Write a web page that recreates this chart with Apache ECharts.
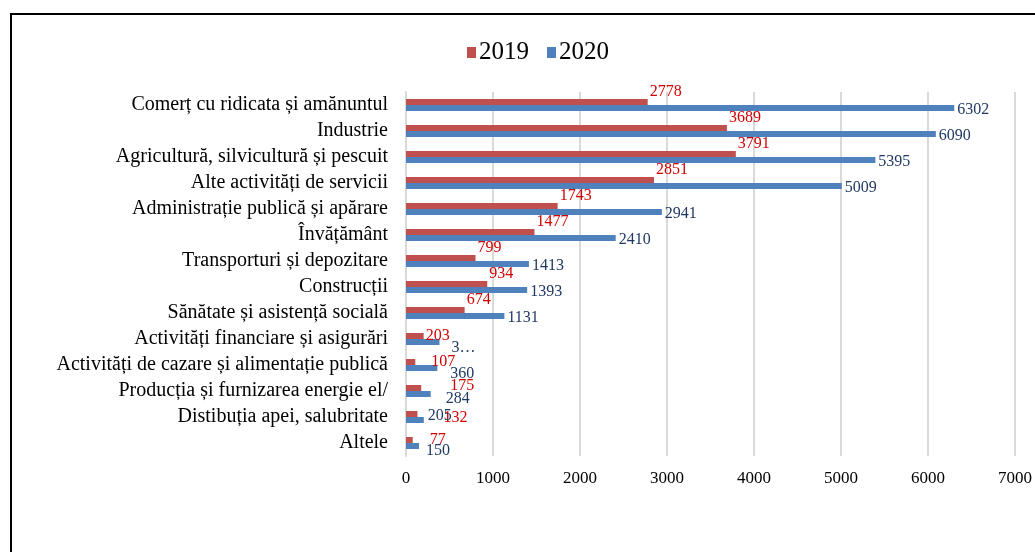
<!DOCTYPE html>
<html>
<head>
<meta charset="utf-8">
<script src="https://cdn.jsdelivr.net/npm/echarts@6/dist/echarts.min.js"></script>
<style>
html, body { margin: 0; padding: 0; background: #fff; }
#chart { width: 1035px; height: 552px; }
</style>
</head>
<body>
<div id="chart"></div>
<script>
var categories = [
	'Comerț cu ridicata și amănuntul',
	'Industrie',
	'Agricultură, silvicultură și pescuit',
	'Alte activități de servicii',
	'Administrație publică și apărare',
	'Învățământ',
	'Transporturi și depozitare',
	'Construcții',
	'Sănătate și asistență socială',
	'Activități financiare și asigurări',
	'Activități de cazare și alimentație publică',
	'Producția și furnizarea energie el/',
	'Distibuția apei, salubritate',
	'Altele'
];
var values2019 = [2778, 3689, 3791, 2851, 1743, 1477, 799, 934, 674, 203, 107, 175, 132, 77];
var values2020 = [6302, 6090, 5395, 5009, 2941, 2410, 1413, 1393, 1131, 385, 360, 284, 205, 150];
var xTicks = [0, 1000, 2000, 3000, 4000, 5000, 6000, 7000];

// the crowded labels at the bottom are shifted by hand, like in the original
var offsets2019 = {9: [0, 0], 10: [14, 0], 11: [27, -2], 12: [24, 4], 13: [15, 0]};
var offsets2020 = {9: [9, 6], 10: [10, 6], 11: [12, 5], 12: [1, -4], 13: [4, 5]};

var serif = '"Liberation Serif", "Times New Roman", serif';

function buildData(values, offsets, extra) {
	return values.map(function (v, i) {
		var item = { value: v };
		if (offsets[i]) item.label = { offset: offsets[i] };
		if (extra && extra[i]) item.label = Object.assign(item.label || {}, extra[i]);
		return item;
	});
}

var chart = echarts.init(document.getElementById('chart'));
var option = {
	backgroundColor: '#fff',
	animation: false,
	textStyle: { fontFamily: serif },
	graphic: [{
		type: 'rect',
		shape: { x: 11, y: 14, width: 1100, height: 600 },
		style: { fill: 'none', stroke: '#000', lineWidth: 2 }
	}],
	legend: {
		data: ['2019', '2020'],
		top: 35,
		left: 462,
		itemWidth: 9,
		itemHeight: 11,
		itemGap: 18,
		icon: 'rect',
		textStyle: { fontFamily: serif, fontSize: 25, color: '#000', padding: [0, 0, 0, -2] }
	},
	grid: { left: 406, right: 12, top: 92, bottom: 96, containLabel: false },
	xAxis: {
		type: 'value',
		min: xTicks[0],
		max: xTicks[xTicks.length - 1],
		interval: 1000,
		axisLine: { show: false },
		axisTick: { show: false },
		splitLine: { lineStyle: { color: '#d9d9d9', width: 2 } },
		axisLabel: {
			fontFamily: serif, fontSize: 17, color: '#000', margin: 14,
			formatter: function (v) { return String(v); }
		}
	},
	yAxis: {
		type: 'category',
		data: categories,
		inverse: true,
		axisLine: { lineStyle: { color: '#d9d9d9', width: 2 } },
		axisTick: { show: false },
		axisLabel: {
			interval: 0, fontFamily: serif, fontSize: 20, color: '#000',
			margin: 18, padding: [0, 0, 7, 0]
		}
	},
	series: [{
		name: '2019',
		type: 'bar',
		data: buildData(values2019, offsets2019),
		barWidth: 6,
		barGap: '0%',
		itemStyle: { color: '#c0504d' },
		label: {
			show: true, position: 'right', distance: 2, offset: [0, -10],
			fontFamily: serif, fontSize: 16, color: '#d00000'
		}
	}, {
		name: '2020',
		type: 'bar',
		data: buildData(values2020, offsets2020, {9: { formatter: '3…' }}),
		barWidth: 6,
		itemStyle: { color: '#4f81bd' },
		label: {
			show: true, position: 'right', distance: 3, offset: [0, 2],
			fontFamily: serif, fontSize: 16, color: '#1f3864'
		}
	}]
};
chart.setOption(option);
</script>
</body>
</html>
